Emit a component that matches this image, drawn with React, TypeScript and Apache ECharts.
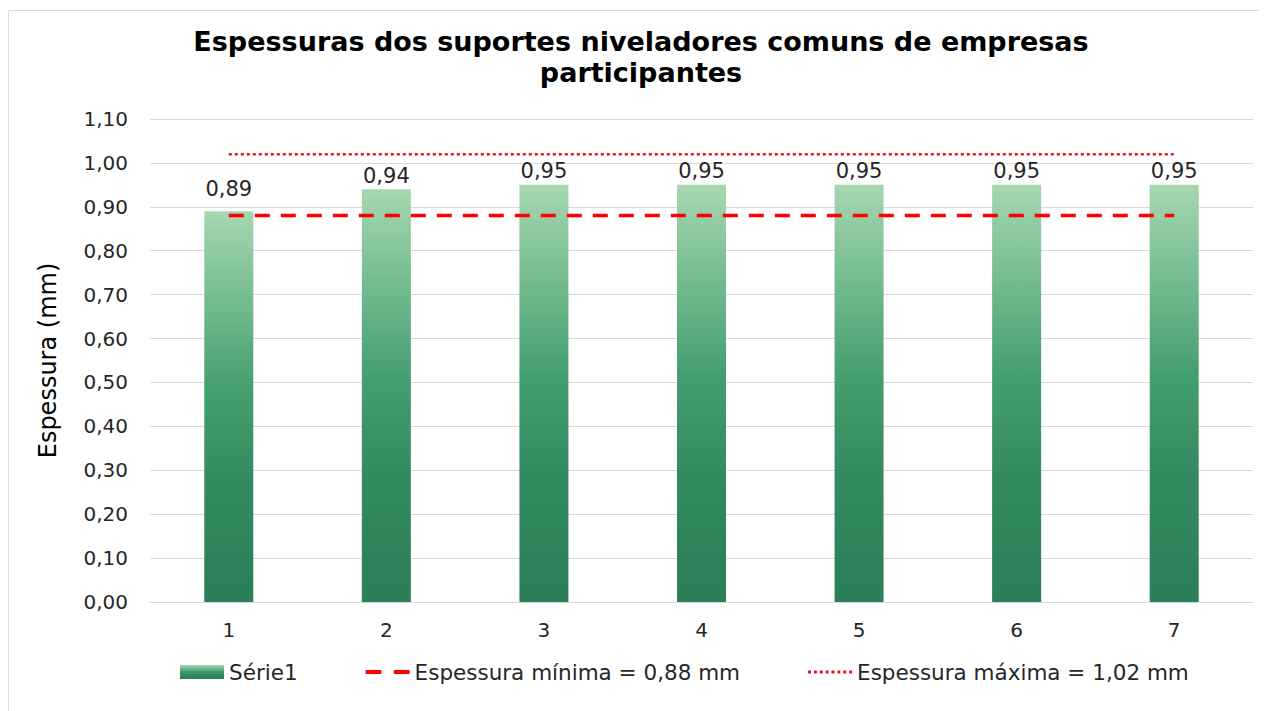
import React, { useEffect, useRef } from "react";
import * as echarts from "echarts";

const categories = ["1", "2", "3", "4", "5", "6", "7"];
const serie1 = [0.89, 0.94, 0.95, 0.95, 0.95, 0.95, 0.95];
const espMin = [0.88, 0.88, 0.88, 0.88, 0.88, 0.88, 0.88];
const espMax = [1.02, 1.02, 1.02, 1.02, 1.02, 1.02, 1.02];
const titleText = "Espessuras dos suportes niveladores comuns de empresas\nparticipantes";
const yAxisName = "Espessura (mm)";
const legendNames = ["Série1", "Espessura mínima = 0,88 mm", "Espessura máxima = 1,02 mm"];

const fmt = (v: number) => v.toFixed(2).replace(".", ",");
const FONT = "'DejaVu Sans', sans-serif";
const TXT = "#262626";

export default function App() {
  const ref = useRef<HTMLDivElement>(null);
  useEffect(() => {
    if (!ref.current) return;
    const chart = echarts.init(ref.current, null, { renderer: "svg" });
    const barGradient = new echarts.graphic.LinearGradient(0, 0, 0, 1, [
      { offset: 0, color: "#a6d7b1" },
      { offset: 0.45, color: "#45a070" },
      { offset: 0.7, color: "#328b5f" },
      { offset: 1, color: "#2a7f56" },
    ]);
    const barData = serie1.map((v, i) =>
      i === 0 ? { value: v, label: { distance: 12 } } : { value: v }
    );
    chart.setOption({
      animation: false,
      backgroundColor: "#ffffff",
      textStyle: { fontFamily: FONT },
      graphic: [
        {
          type: "rect",
          shape: { x: 0.5, y: 2.5, width: 1400, height: 900 },
          style: { fill: "none", stroke: "#d9d9d9", lineWidth: 1 },
          silent: true,
          z: -1,
        },
        {
          type: "text",
          x: 633,
          y: 18,
          style: {
            text: titleText,
            textAlign: "center",
            textVerticalAlign: "top",
            fontFamily: FONT,
            fontSize: 27,
            fontWeight: "bold",
            fill: "#000000",
            lineHeight: 31,
          },
        },
      ],
      grid: { left: 142, right: 14, top: 111, bottom: 109, containLabel: false },
      legend: {
        top: 648,
        left: 167,
        itemGap: 68,
        itemWidth: 44,
        itemHeight: 14,
        textStyle: { fontFamily: FONT, fontSize: 21.5, color: TXT },
        data: [
          { name: legendNames[0], icon: "rect" },
          {
            name: legendNames[1],
            icon: "path://M0,0H15V4H0Z M27,0H42V4H27Z",
            itemStyle: { color: "#ff0000" },
          },
          {
            name: legendNames[2],
            icon: "path://M0,0H3V3H0Z M6,0H9V3H6Z M12,0H15V3H12Z M18,0H21V3H18Z M24,0H27V3H24Z M30,0H33V3H30Z M36,0H39V3H36Z M42,0H45V3H42Z",
            itemStyle: { color: "#e0141e" },
          },
        ],
      },
      xAxis: {
        type: "category",
        data: categories,
        axisLine: { show: true, lineStyle: { color: "#d9d9d9", width: 1 } },
        axisTick: { show: false },
        axisLabel: { fontFamily: FONT, fontSize: 20, color: TXT, margin: 18 },
      },
      yAxis: {
        type: "value",
        min: 0,
        max: 1.1,
        interval: 0.1,
        name: yAxisName,
        nameLocation: "middle",
        nameGap: 90,
        nameTextStyle: { fontFamily: FONT, fontSize: 24, color: "#000000" },
        axisLine: { show: false },
        axisTick: { show: false },
        splitLine: { lineStyle: { color: "#d9d9d9", width: 1 } },
        axisLabel: {
          fontFamily: FONT,
          fontSize: 20,
          color: TXT,
          margin: 22,
          formatter: (v: number) => fmt(v),
        },
      },
      series: [
        {
          name: legendNames[0],
          type: "bar",
          data: barData,
          barWidth: 49,
          itemStyle: { color: barGradient },
          label: {
            show: true,
            position: "top",
            distance: 3,
            fontFamily: FONT,
            fontSize: 21,
            color: TXT,
            formatter: (p: any) => fmt(p.value),
          },
          z: 1,
        },
        {
          name: legendNames[1],
          type: "line",
          data: espMin,
          symbol: "none",
          lineStyle: { color: "#ff0000", width: 3.5, type: [15, 11] },
          itemStyle: { color: "#ff0000" },
          z: 3,
        },
        {
          name: legendNames[2],
          type: "line",
          data: espMax,
          symbol: "none",
          lineStyle: { color: "#e0141e", width: 2.5, type: [3, 3] },
          itemStyle: { color: "#e0141e" },
          z: 3,
        },
      ],
    });
    return () => chart.dispose();
  }, []);
  return <div ref={ref} style={{ width: 1259, height: 703 }} />;
}
